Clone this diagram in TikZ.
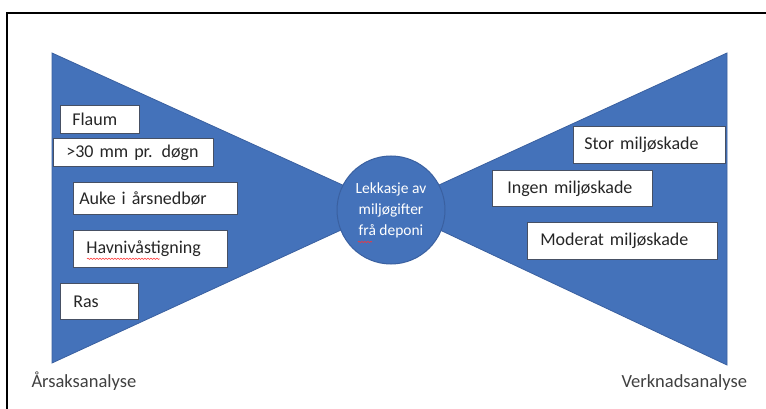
\documentclass[tikz,border=0pt]{standalone}
\usepackage{fontspec}
\setmainfont{Carlito}
\usetikzlibrary{decorations.pathmorphing}
\definecolor{bowblue}{RGB}{68,114,186}
\definecolor{bowedge}{RGB}{58,96,160}
\definecolor{boxedge}{RGB}{70,80,100}
\definecolor{labgrey}{RGB}{64,64,64}
\tikzset{
  wing/.style={fill=bowblue, draw=bowedge, line width=0.8pt, line join=miter},
  hub/.style={circle, fill=bowblue, draw=bowedge, line width=1pt, minimum size=108pt, inner sep=0pt,
    text=white, font=\fontsize{15.5}{21}\selectfont, align=center},
  box/.style={draw=boxedge, line width=0.6pt, fill=white, anchor=north west, inner sep=0pt,
    text=black!85, font=\fontsize{18}{20}\selectfont, align=left},
  side/.style={text=labgrey, font=\fontsize{18.5}{20}\selectfont, anchor=base west},
  squiggle/.style={draw=red!80, line width=0.6pt, decorate, decoration={snake, amplitude=0.6pt, segment length=3pt}}
}
\begin{document}
\begin{tikzpicture}[x=1pt,y=-1pt]
\useasboundingbox (0,0) rectangle (766,409);
% frame
\coordinate (fa) at (7,409);
\coordinate (fb) at (7,13);
\coordinate (fc) at (766,13);
\draw[line width=2pt, line cap=rect] (fa) -- (fb) -- (fc);
% wings
\coordinate (lt) at (52,53);
\coordinate (lb) at (52,363);
\coordinate (ax) at (391,207);
\coordinate (rt) at (727,53);
\coordinate (rb) at (727,365);
\draw[wing] (lt) -- (ax) -- (lb) -- cycle;
\draw[wing] (rt) -- (ax) -- (rb) -- cycle;
% hub
\node[hub] (hub) at (391,210) {Lekkasje av\\miljøgifter\\frå deponi};
\draw[squiggle] ([xshift=-33pt,yshift=-32pt]hub.center) -- ([xshift=-19pt,yshift=-32pt]hub.center);
% left boxes
\node[box, minimum width=79pt, minimum height=28pt, text width=79pt] (b1) at (60,105) {\hspace*{12pt}Flaum};
\node[box, minimum width=160pt, minimum height=28pt, text width=160pt] (b2) at (53,138) {\hspace*{13pt}>30 mm pr. døgn};
\node[box, minimum width=164pt, minimum height=32pt, text width=164pt] (b3) at (73,182) {\hspace*{6pt}Auke i årsnedbør};
\node[box, minimum width=154pt, minimum height=37pt, text width=154pt] (b4) at (73,230) {\hspace*{13pt}Havnivåstigning};
\draw[squiggle] ([xshift=14pt,yshift=-10pt]b4.west) -- ([xshift=87pt,yshift=-10pt]b4.west);
\node[box, minimum width=78pt, minimum height=36pt, text width=78pt] (b5) at (60,283) {\hspace*{13pt}Ras};
% right boxes
\node[box, minimum width=152pt, minimum height=37pt, text width=152pt] (c1) at (573,126) {\hspace*{11pt}Stor miljøskade};
\node[box, minimum width=160pt, minimum height=36pt, text width=160pt] (c2) at (492,170) {\hspace*{15pt}Ingen miljøskade};
\node[box, minimum width=190pt, minimum height=37pt, text width=190pt] (c3) at (527,222) {\hspace*{13pt}Moderat miljøskade};
% side labels
\node[side] (l1) at (28,387) {Årsaksanalyse};
\node[side] (l2) at (618,387) {Verknadsanalyse};
\end{tikzpicture}
\end{document}
